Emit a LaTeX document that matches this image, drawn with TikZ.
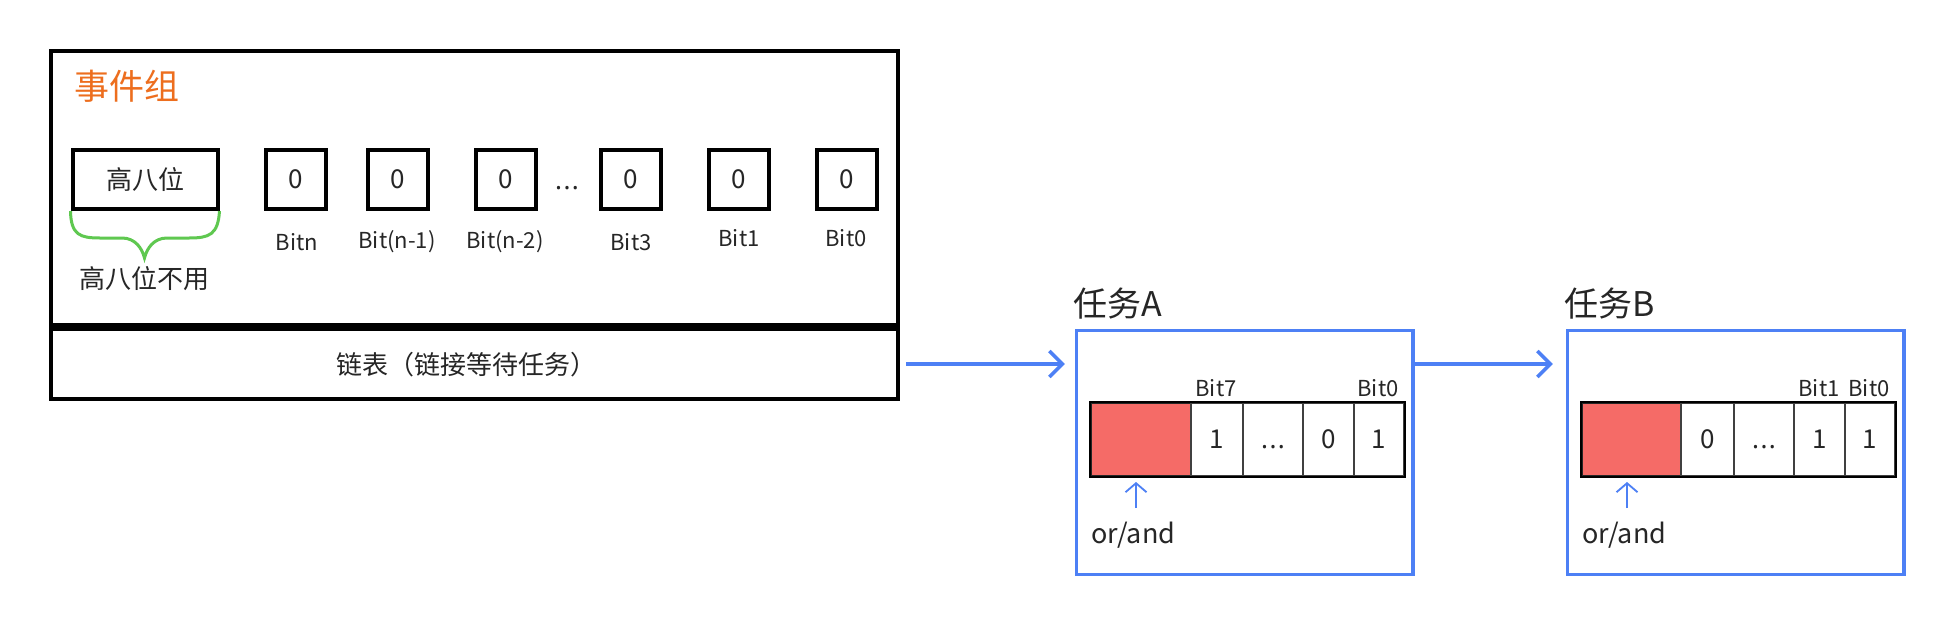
\documentclass[tikz,border=0pt]{standalone}
\usepackage{fontspec}
\setmainfont{Noto Sans CJK SC}
\newfontfamily\latinfont{Noto Sans}
\usetikzlibrary{arrows.meta}
\definecolor{egorange}{RGB}{237,110,30}
\definecolor{tblue}{RGB}{77,128,245}
\definecolor{bgreen}{RGB}{95,200,80}
\definecolor{rfill}{RGB}{245,107,103}
\definecolor{txt}{RGB}{38,38,38}
\newcommand{\fs}[1]{\fontsize{#1}{#1}\selectfont}
\newcommand{\tdots}{\vphantom{0}{\latinfont .\kern1.5pt.\kern1.5pt.}}
\tikzset{
  bitbox/.style={draw=black, line width=4pt, minimum width=60pt, minimum height=59pt, inner sep=0pt, text=txt, font=\fs{26}},
  bitlbl/.style={inner sep=0pt, text=txt, font=\fs{22}},
  outerbox/.style={draw=black, line width=4pt, inner sep=0pt, minimum width=847pt},
  taskbox/.style={draw=tblue, line width=3.5pt, inner sep=0pt, minimum width=336.5pt, minimum height=244pt},
  tasktitle/.style={inner sep=0pt, anchor=west, text=txt, font=\fs{34}},
  regcell/.style={draw=black!75, line width=2pt, inner sep=0pt, minimum height=73pt, text=txt, font=\fs{26}},
  redcell/.style={regcell, fill=rfill, draw=black!85},
  reglbl/.style={inner sep=0pt, text=txt, font=\fs{22}},
  bigarr/.style={draw=tblue, line width=3.5pt, -{Straight Barb[length=13pt,width=26pt,line width=3.5pt]}},
  uparr/.style={draw=tblue, line width=1.8pt, -{Straight Barb[length=9pt,width=21pt,line width=1.8pt]}},
  bracepath/.style={draw=bgreen, line width=3pt},
  plain/.style={inner sep=0pt, text=txt}
}
\begin{document}
\begin{tikzpicture}[x=1pt, y=-1pt]
\useasboundingbox[fill=white] (0,0) rectangle (1956,624);

% event group box
\node[outerbox, minimum height=274pt] (eg) at (474.5,188) {};
\node[outerbox, minimum height=70pt] (list) at (474.5,364) {};
\node[plain, font=\fs{26}] (listtxt) at (466,365) {链表（链接等待任务）};
\node[plain, anchor=west, text=egorange, font=\fs{35}] (title) at (74,86) {事件组};

% bit boxes
\node[bitbox, minimum width=145pt] (high) at (145,179.5) {高八位};
\node[bitbox] (bn) at (296,179.5) {0};
\node[bitbox] (bn1) at (398,179.5) {0};
\node[bitbox] (bn2) at (505.5,179.5) {0};
\node[plain, font=\fs{26}] (dots) at (567,180) {\tdots};
\node[bitbox] (b3) at (631,179.5) {0};
\node[bitbox] (b1) at (739,179.5) {0};
\node[bitbox] (b0) at (847,179.5) {0};

\node[bitlbl] (lbn) at (297,242) {Bitn};
\node[bitlbl] (lbn1) at (397,242) {Bit(n-1)};
\node[bitlbl] (lbn2) at (505,242) {Bit(n-2)};
\node[bitlbl] (lb3) at (631,242) {Bit3};
\node[bitlbl] (lb1) at (739,238) {Bit1};
\node[bitlbl] (lb0) at (846,238) {Bit0};

% brace
\draw[bracepath] (high.south west) .. controls (71,235) and (80,238) .. (100,238)
  -- (122,238) .. controls (135,238) and (142,248) .. (144.5,258)
  .. controls (147,248) and (154,238) .. (167,238)
  -- (189,238) .. controls (209,238) and (218,235) .. (high.south east);
\node[plain, font=\fs{26}] (unused) at (144,279) {高八位不用};

% task A
\node[taskbox] (taskA) at (1244.75,452.5) {};
\node[tasktitle] (titleA) at (1073,304) {任务A};
\node[redcell, minimum width=100pt] (redA) at (1141,439.5) {};
\node[regcell, minimum width=52pt] (a7) at (1217,439.5) {1};
\node[regcell, minimum width=60pt] (adots) at (1273,439.5) {\tdots};
\node[regcell, minimum width=50.5pt] (a1) at (1328.25,439.5) {0};
\node[regcell, minimum width=50.5pt] (a0) at (1378.75,439.5) {1};
\draw[draw=black, line width=2pt] (redA.north west) rectangle (a0.south east);
\node[reglbl] (lA7) at (1216,388) {Bit7};
\node[reglbl] (lA0) at (1378,388) {Bit0};
\coordinate (arA) at (1136,508);
\draw[uparr, shorten >=5pt] (arA) -- (arA |- redA.south);
\node[plain, anchor=west, font=\fs{27}] (orA) at (1091,535) {or/and};

% task B
\node[taskbox] (taskB) at (1735.75,452.5) {};
\node[tasktitle] (titleB) at (1564,304) {任务B};
\node[redcell, minimum width=99pt] (redB) at (1631.5,439.5) {};
\node[regcell, minimum width=53pt] (bb7) at (1707.5,439.5) {0};
\node[regcell, minimum width=60pt] (bdots) at (1764,439.5) {\tdots};
\node[regcell, minimum width=50.5pt] (bb1) at (1819.25,439.5) {1};
\node[regcell, minimum width=50.5pt] (bb0) at (1869.75,439.5) {1};
\draw[draw=black, line width=2pt] (redB.north west) rectangle (bb0.south east);
\node[reglbl] (lB1) at (1819,388) {Bit1};
\node[reglbl] (lB0) at (1869,388) {Bit0};
\coordinate (arB) at (1627,508);
\draw[uparr, shorten >=5pt] (arB) -- (arB |- redB.south);
\node[plain, anchor=west, font=\fs{27}] (orB) at (1582,535) {or/and};

% connectors
\draw[bigarr, shorten <=6pt, shorten >=10pt] (list.east) -- (list.east -| taskA.west);
\draw[bigarr, shorten >=13pt] (taskA.east |- list.east) -- (taskB.west |- list.east);
\end{tikzpicture}
\end{document}
